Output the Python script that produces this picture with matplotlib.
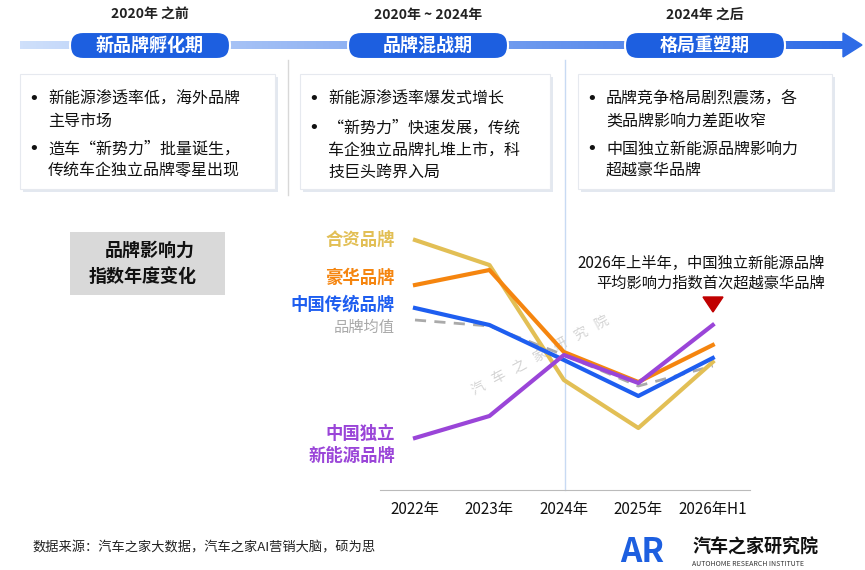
import matplotlib
matplotlib.use("Agg")
import matplotlib.pyplot as plt
from matplotlib.patches import FancyBboxPatch, Rectangle, Polygon
import numpy as np

plt.rcParams['font.family'] = ['Noto Sans CJK SC', 'DejaVu Sans']

years = ["2022年", "2023年", "2024年", "2025年", "2026年H1"]
joint = [105, 92.5, 35, 11, 44]
luxury = [82.5, 90, 49, 34, 52.5]
cn_trad = [71, 62.5, 45, 27, 46]
avg = [65, 62, 47.5, 32, 42]
cn_nev = [6, 17, 47.5, 33.5, 62.5]

W, H = 865, 570
fig = plt.figure(figsize=(W/100, H/100), dpi=100)
bg = fig.add_axes([0, 0, 1, 1])
bg.set_xlim(0, W); bg.set_ylim(H, 0); bg.axis('off')

grad = np.linspace(0, 1, 256).reshape(1, -1)
from matplotlib.colors import LinearSegmentedColormap
cm = LinearSegmentedColormap.from_list('g', ['#cfe0fb', '#2e6be6'])
bg.imshow(grad, extent=[20, 845, 49, 41], cmap=cm, aspect='auto', zorder=1)
bg.add_patch(Polygon([[843, 33], [862, 45], [843, 57]], color='#2e6be6', zorder=1))
bg.set_xlim(0, W); bg.set_ylim(H, 0)

phases = [(150, "2020年 之前", "新品牌孵化期"), (428, "2020年 ~ 2024年", "品牌混战期"), (705, "2024年 之后", "格局重塑期")]
for cx, hdr, name in phases:
    bg.text(cx, 15, hdr, ha='center', va='center', fontsize=10, fontweight='bold', color='#222222')
    bg.add_patch(FancyBboxPatch((cx-80, 32), 160, 27, boxstyle="round,pad=0,rounding_size=13",
                                fc='#1d5fe0', ec='white', lw=1.5, zorder=3))
    bg.text(cx, 45.5, name, ha='center', va='center', fontsize=13, fontweight='bold', color='white', zorder=4)

boxes = [(20, 275, [("•", "新能源渗透率低，海外品牌"), ("", "主导市场"), ("•", "造车“新势力”批量诞生，"), ("", "传统车企独立品牌零星出现")]),
         (300, 550, [("•", "新能源渗透率爆发式增长"), ("•", "“新势力”快速发展，传统"), ("", "车企独立品牌扎堆上市，科"), ("", "技巨头跨界入局")]),
         (578, 832, [("•", "品牌竞争格局剧烈震荡，各"), ("", "类品牌影响力差距收窄"), ("•", "中国独立新能源品牌影响力"), ("", "超越豪华品牌")])]
ys_sets = [[99, 121, 149, 171], [99, 128, 150, 172], [99, 121, 149, 171]]
for (x0, x1, lines), ys in zip(boxes, ys_sets):
    bg.add_patch(Rectangle((x0+3, 77), x1-x0, 115, fc='#e3e8f0', ec='none', zorder=1))
    bg.add_patch(Rectangle((x0, 74), x1-x0, 115, fc='white', ec='#e6e9ef', lw=0.8, zorder=2))
    for (b, t), y in zip(lines, ys):
        if b:
            bg.text(x0+14, y, b, ha='center', va='center', fontsize=13, color='#111111', zorder=3, family='DejaVu Sans')
        bg.text(x0+28, y, t, ha='left', va='center', fontsize=11.5, color='#111111', zorder=3)
bg.plot([288, 288], [60, 195], color='#d8d8d8', lw=1)
bg.plot([565, 565], [60, 490], color='#c8daf3', lw=1)

bg.add_patch(Rectangle((70, 232), 155, 63, fc='#d9d9d9', ec='none'))
bg.text(150, 250, "品牌影响力", ha='center', va='center', fontsize=13, fontweight='bold', color='#111111')
bg.text(143, 277, "指数年度变化", ha='center', va='center', fontsize=13, fontweight='bold', color='#111111')

c_joint, c_lux, c_trad, c_avg, c_nev = '#e2bf55', '#f5850f', '#1e5ef0', '#aaaaaa', '#9a45d8'
labs = [(240, "合资品牌", c_joint, 'bold'), (278, "豪华品牌", c_lux, 'bold'), (305, "中国传统品牌", c_trad, 'bold'),
        (327, "品牌均值", c_avg, 'normal'), (434, "中国独立", c_nev, 'bold'), (456, "新能源品牌", c_nev, 'bold')]
for y, t, c, w in labs:
    bg.text(395, y, t, ha='right', va='center', fontsize=12.5 if w == 'bold' else 11, fontweight=w, color=c)

bg.text(825, 263, "2026年上半年，中国独立新能源品牌", ha='right', va='center', fontsize=11, color='#111111')
bg.text(825, 283, "平均影响力指数首次超越豪华品牌", ha='right', va='center', fontsize=11, color='#111111')
bg.add_patch(Polygon([[703, 297], [723, 297], [713, 312]], color='#c00000'))

bg.text(540, 355, "汽   车   之   家   研   究   院", ha='center', va='center', fontsize=10, color='#d4d4d4', rotation=28)

bg.text(32, 548, "数据来源：汽车之家大数据，汽车之家AI营销大脑，硕为思", ha='left', va='center', fontsize=9.5, color='#222222')
bg.text(620, 553, "AR", ha='left', va='center', fontsize=24, fontweight='bold', color='#1d5fe0', style='italic')
bg.text(692, 547, "汽车之家研究院", ha='left', va='center', fontsize=13, fontweight='bold', color='#111111')
bg.text(692, 564, "AUTOHOME RESEARCH INSTITUTE", ha='left', va='center', fontsize=5, color='#333333')

ax = fig.add_axes([380/W, (H-490)/H, 370/W, 270/H])
ax.patch.set_alpha(0)
x = np.arange(len(years))
ax.plot(x, avg, color=c_avg, lw=2, ls=(0, (4, 3)), zorder=1)
ax.plot(x, joint, color=c_joint, lw=3, zorder=2)
ax.plot(x, luxury, color=c_lux, lw=3, zorder=3)
ax.plot(x, cn_trad, color=c_trad, lw=3, zorder=4)
ax.plot(x, cn_nev, color=c_nev, lw=3, zorder=5)
ax.set_xlim(-0.47, 4.5)
ax.set_ylim(-20, 115)
ax.set_xticks(x)
ax.set_xticklabels(years, fontsize=11, color='#111111')
ax.tick_params(axis='x', length=0, pad=8)
ax.set_yticks([])
for s in ['top', 'right', 'left']:
    ax.spines[s].set_visible(False)
ax.spines['bottom'].set_color('#bbbbbb')

fig.savefig("out.png", dpi=100)
